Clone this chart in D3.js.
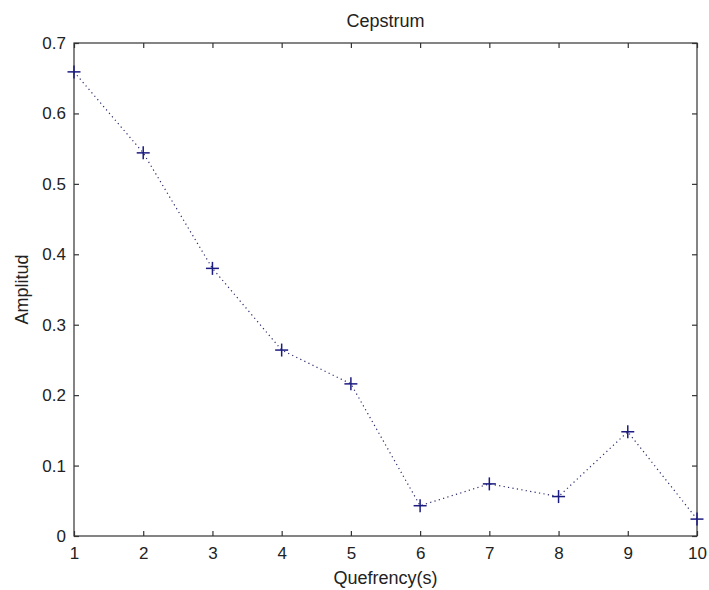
<!DOCTYPE html>
<html>
<head>
<meta charset="utf-8">
<script src="https://cdn.jsdelivr.net/npm/d3@7"></script>
<style>
body { margin: 0; background: #fff; }
svg text { font-family: "Liberation Sans", Arial, sans-serif; fill: #222; }
</style>
</head>
<body>
<svg id="chart"></svg>
<script>
var width = 709, height = 590;

// data
var quefrency = [1, 2, 3, 4, 5, 6, 7, 8, 9, 10];
var amplitud = [0.659, 0.544, 0.380, 0.264, 0.216, 0.043, 0.074, 0.056, 0.148, 0.024];
var xTicks = [1, 2, 3, 4, 5, 6, 7, 8, 9, 10];
var yTicks = [0, 0.1, 0.2, 0.3, 0.4, 0.5, 0.6, 0.7];

// plot box ("top" is taken by window.top, so other names)
var boxL = 74, boxR = 697, boxT = 43, boxB = 536;

var svg = d3.select("#chart").attr("width", width).attr("height", height);

var xScale = d3.scaleLinear().domain([1, 10]).range([boxL, boxR]);
var yScale = d3.scaleLinear().domain([0, 0.7]).range([boxB, boxT]);

// box
svg.append("rect")
	.attr("x", boxL).attr("y", boxT)
	.attr("width", boxR - boxL).attr("height", boxB - boxT)
	.style("fill", "none").style("stroke", "#333").style("stroke-width", 1.2);

var tickLen = 5;

// bottom axis, ticks inward
var xAxis = d3.axisBottom(xScale).tickValues(xTicks).tickSize(-tickLen).tickPadding(11).tickFormat(d3.format("d"));
var gx = svg.append("g").attr("transform", "translate(0," + boxB + ")").call(xAxis);
// top axis
var gxTop = svg.append("g").attr("transform", "translate(0," + boxT + ")")
	.call(d3.axisTop(xScale).tickValues(xTicks).tickSize(-tickLen).tickFormat(""));
// left axis
var yAxis = d3.axisLeft(yScale).tickValues(yTicks).tickSize(-tickLen).tickPadding(8).tickFormat(function(d){ return d === 0 ? "0" : d3.format(".1f")(d); });
var gy = svg.append("g").attr("transform", "translate(" + boxL + ",0)").call(yAxis);
// right axis
var gyRight = svg.append("g").attr("transform", "translate(" + boxR + ",0)")
	.call(d3.axisRight(yScale).tickValues(yTicks).tickSize(-tickLen).tickFormat(""));

[gx, gxTop, gy, gyRight].forEach(function(g){
	g.select(".domain").remove();
	g.selectAll(".tick line").style("stroke", "#333").style("stroke-width", 1.2);
	g.selectAll("text").style("font-size", "17px").style("font-family", "'Liberation Sans', Arial, sans-serif").style("fill", "#222");
});

// dotted line
var line = d3.line()
	.x(function(d, i){ return xScale(quefrency[i]); })
	.y(function(d){ return yScale(d); });

svg.append("path")
	.datum(amplitud)
	.attr("d", line)
	.style("fill", "none")
	.style("stroke", "#2a2a6a")
	.style("stroke-width", 1.2)
	.style("stroke-dasharray", "1.2,3.3");

// plus markers
var m = 6.5;
var marks = svg.append("g").selectAll("g").data(amplitud).enter().append("g")
	.attr("transform", function(d, i){ return "translate(" + xScale(quefrency[i]) + "," + yScale(d) + ")"; });
marks.append("line").attr("x1", -m).attr("x2", m).attr("y1", 0).attr("y2", 0);
marks.append("line").attr("x1", 0).attr("x2", 0).attr("y1", -m).attr("y2", m);
marks.selectAll("line").style("stroke", "#1c1c80").style("stroke-width", 1.5);

// labels
svg.append("text")
	.attr("x", (boxL + boxR) / 2).attr("y", 27)
	.attr("text-anchor", "middle")
	.style("font-size", "18px")
	.text("Cepstrum");

svg.append("text")
	.attr("x", (boxL + boxR) / 2).attr("y", 584)
	.attr("text-anchor", "middle")
	.style("font-size", "18px")
	.text("Quefrency(s)");

svg.append("text")
	.attr("transform", "translate(28," + ((boxT + boxB) / 2) + ") rotate(-90)")
	.attr("text-anchor", "middle")
	.style("font-size", "18px")
	.text("Amplitud");
</script>
</body>
</html>
